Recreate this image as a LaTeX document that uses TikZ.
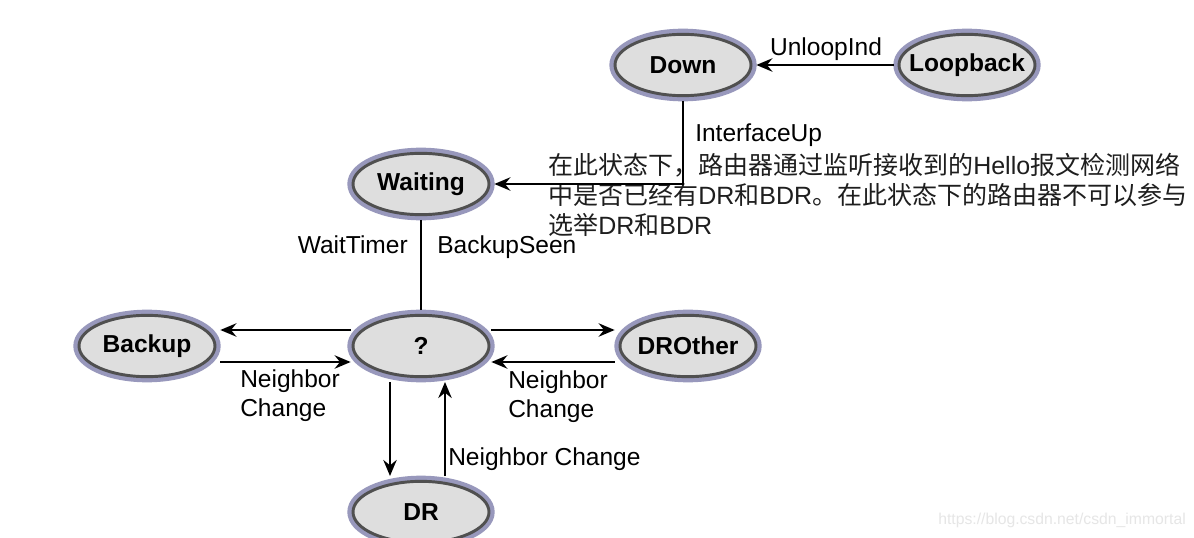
\documentclass[tikz,border=0pt]{standalone}
\usepackage{fontspec}
\setmainfont{Liberation Sans}
\newfontfamily\cjkfont{Noto Sans CJK SC}
\usetikzlibrary{shapes.geometric,arrows.meta,calc}

\begin{document}
\begin{tikzpicture}[x=0.75pt,y=0.75pt,yscale=-1,xscale=1,
  state/.style={ellipse, draw={rgb, 255:red, 80; green, 80; blue, 80 }, fill={rgb, 255:red, 222; green, 222; blue, 222 }, line width=2.2pt, minimum width=102pt, minimum height=46pt, inner xsep=-8pt, inner ysep=0pt, outer sep=4pt, font=\fontsize{18.4}{22}\selectfont\bfseries, preaction={draw={rgb, 255:red, 152; green, 152; blue, 188 }, line width=8.5pt}},
  lbl/.style={font=\fontsize{18.4}{21.75}\selectfont, inner sep=0pt, align=left},
  conn/.style={line width=1.9pt, -{Stealth[length=12pt,width=10pt,inset=4pt]}}
]
\path[use as bounding box, fill=white] (0,0) rectangle (1194,538);

%Shape: Ellipse
\node[state] (down) at (683,65) {Down};
\node[state] (loop) at (967,65) {Loopback};
\node[state] (wait) at (421,184) {Waiting};
\node[state] (q) at (421,346) {?};
\node[state] (backup) at (147,346) {Backup};
\node[state] (drother) at (688,346) {DROther};
\node[state] (dr) at (421,512) {DR};

% Text Node
\node[anchor=north west, inner sep=0pt, align=left, font=\fontsize{18.75}{22.5}\selectfont, text={rgb, 255:red, 30; green, 30; blue, 30 }] (note) at (548,153) {{\cjkfont 在此状态下，路由器通过监听接收到的}Hello{\cjkfont 报文检测网络}\\{\cjkfont 中是否已经有}DR{\cjkfont 和}BDR{\cjkfont 。在此状态下的路由器不可以参与}\\{\cjkfont 选举}DR{\cjkfont 和}BDR};

%Straight Lines
\draw[conn] (loop.west) -- (down.east);
\draw[conn] (down.south) |- (wait.east);
\draw[line width=1.9pt] (wait.south) -- (q.north);
\draw[conn] ($(q.west)+(3,-16)$) -- ($(backup.east)+(0,-16)$);
\draw[conn] ($(backup.east)+(0,16)$) -- ($(q.west)+(3,16)$);
\draw[conn] ($(q.east)+(-3,-16)$) -- ($(drother.west)+(0,-16)$);
\draw[conn] ($(drother.west)+(0,16)$) -- ($(q.east)+(-3,16)$);
\draw[conn] ($(q.south)+(-31,0)$) -- ($(dr.north)+(-31,0)$);
\draw[conn] ($(dr.north)+(24,0)$) -- ($(q.south)+(24,0)$);

% Text Node
\node[lbl, anchor=base] (unloop) at (826,56) {UnloopInd};
\node[lbl, anchor=base west] (ifup) at (695,142) {InterfaceUp};
\node[lbl, anchor=base east] (wtimer) at (408,253) {WaitTimer};
\node[lbl, anchor=base west] (bseen) at (437,253) {BackupSeen};
\node[lbl, anchor=north west] (nbleft) at (240,369.5) {Neighbor\\Change};
\node[lbl, anchor=north west] (nbright) at (508,370) {Neighbor\\Change};
\node[lbl, anchor=base west] (nbdown) at (448,465) {Neighbor Change};
% Text Node
\node[anchor=base west, inner sep=0pt, font=\fontsize{11.8}{14}\selectfont, text={rgb, 255:red, 230; green, 230; blue, 230 }] (mark) at (938,524) {https://blog.csdn.net/csdn\_immortal};

\end{tikzpicture}
\end{document}
